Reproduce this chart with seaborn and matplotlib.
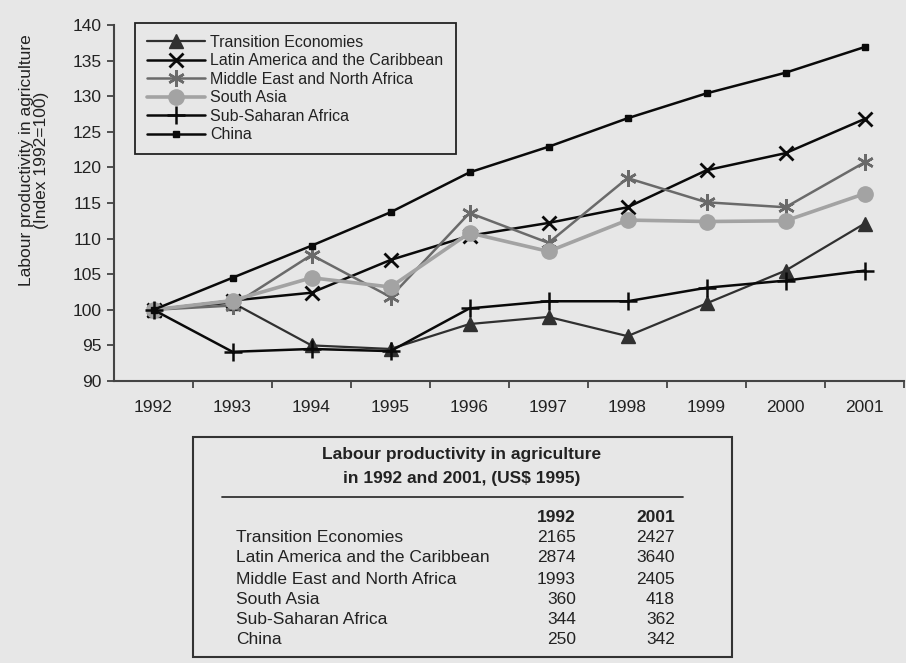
import matplotlib
matplotlib.use("Agg")
import matplotlib.pyplot as plt
import seaborn as sns
import pandas as pd
from matplotlib.patches import Rectangle
from matplotlib.lines import Line2D

# ===================== data =====================
years = [1992, 1993, 1994, 1995, 1996, 1997, 1998, 1999, 2000, 2001]
regions = ["Transition Economies", "Latin America and the Caribbean",
           "Middle East and North Africa", "South Asia",
           "Sub-Saharan Africa", "China"]
transition = [100, 101.0, 95.0, 94.5, 98.0, 99.0, 96.3, 100.9, 105.5, 112.1]
latin_america = [100, 101.3, 102.4, 107.0, 110.4, 112.2, 114.4, 119.6, 122.0, 126.8]
mena = [100, 100.6, 107.7, 101.8, 113.6, 109.4, 118.5, 115.1, 114.4, 120.7]
south_asia = [100, 101.3, 104.5, 103.2, 110.8, 108.2, 112.6, 112.4, 112.5, 116.3]
ssa = [100, 94.1, 94.5, 94.2, 100.2, 101.2, 101.2, 103.1, 104.1, 105.5]
china = [100, 104.5, 109.0, 113.7, 119.3, 122.9, 126.9, 130.4, 133.3, 136.9]

table_1992 = [2165, 2874, 1993, 360, 344, 250]
table_2001 = [2427, 3640, 2405, 418, 362, 342]

series = [transition, latin_america, mena, south_asia, ssa, china]

df = pd.DataFrame({
    "year": years * len(regions),
    "region": [r for r in regions for _ in years],
    "index": [v for s in series for v in s],
})

# styles
bg = "#e7e7e7"
styles = {
    "Transition Economies": dict(color="#303030", marker="^", markersize=10, lw=1.6),
    "Latin America and the Caribbean": dict(color="#0a0a0a", marker="x", markersize=10, mew=2, lw=1.8),
    "Middle East and North Africa": dict(color="#6a6a6a", marker=(6, 2, 0), markersize=12, mew=1.8, lw=1.8),
    "South Asia": dict(color="#a3a3a3", marker="o", markersize=11, lw=2.6),
    "Sub-Saharan Africa": dict(color="#0a0a0a", marker="+", markersize=13, mew=1.8, lw=1.8),
    "China": dict(color="#0a0a0a", marker="s", markersize=5, lw=1.8),
}

sns.set_theme(style="white")
plt.rcParams["font.family"] = ["Liberation Sans", "DejaVu Sans"]
plt.rcParams["text.color"] = "#222222"

W, H = 906, 663
fig = plt.figure(figsize=(W / 100, H / 100), dpi=100, facecolor=bg)

def fx(px):
    return px / W

def fy(py):
    return 1 - py / H

ax = fig.add_axes([fx(114), fy(381), fx(904) - fx(114), fy(25) - fy(381)])
ax.set_facecolor(bg)

for name in regions:
    st = styles[name]
    sub = df[df["region"] == name]
    sns.lineplot(data=sub, x="year", y="index", ax=ax, label=name,
                 color=st["color"], linewidth=st["lw"], marker=st["marker"],
                 markersize=st["markersize"], markeredgewidth=st.get("mew", 1),
                 markeredgecolor=st["color"], markerfacecolor=st["color"])

ax.set_xlim(1991.5, 2001.5)
ax.set_ylim(90, 140)
ax.set_yticks(range(90, 141, 5))
ax.set_xticks([y + 0.5 for y in years])
ax.set_xticklabels([])
ax.set_xticks(years, minor=True)
ax.set_xticklabels([str(y) for y in years], minor=True)
ax.tick_params(axis="x", which="minor", length=0, pad=14, labelsize=12.5, labelcolor="#222222")
ax.tick_params(axis="x", which="major", bottom=True, length=5, width=1.3,
               color="#444444", direction="out")
ax.tick_params(axis="y", length=5, direction="out", width=1.3, color="#444444",
               labelsize=12.5, labelcolor="#222222", pad=4, left=True)
sns.despine(ax=ax)
for sp in ["left", "bottom"]:
    ax.spines[sp].set_color("#444444")
    ax.spines[sp].set_linewidth(1.5)
ax.set_xlabel("")
ax.set_ylabel("Labour productivity in agriculture\n(Index 1992=100)", fontsize=12.5,
              color="#222222", linespacing=1.0)
ax.yaxis.set_label_coords(-0.082, 0.62)

leg = ax.legend(loc="upper left", bbox_to_anchor=(0.027, 1.006), borderaxespad=0,
                frameon=True, fancybox=False, edgecolor="#222222", facecolor=bg,
                framealpha=1, fontsize=11.5, handlelength=3.6, handletextpad=0.35,
                labelspacing=0.22, borderpad=0.75)
leg.get_frame().set_linewidth(1.3)
for t in leg.get_texts():
    t.set_color("#222222")

# ===================== table =====================
fig.patches.append(Rectangle((fx(193), fy(657)), fx(732) - fx(193), fy(437) - fy(657),
                             transform=fig.transFigure, fill=False,
                             edgecolor="#333333", linewidth=1.5))
fig.lines.append(Line2D([fx(222), fx(683)], [fy(497), fy(497)],
                        transform=fig.transFigure, color="#333333", linewidth=1.3))
fig.text(fx(462), fy(455), "Labour productivity in agriculture", ha="center",
         va="center", fontsize=12.5, fontweight="bold")
fig.text(fx(462), fy(478), "in 1992 and 2001, (US$ 1995)", ha="center",
         va="center", fontsize=12.5, fontweight="bold")
fig.text(fx(576), fy(517), "1992", ha="right", va="center", fontsize=12.5, fontweight="bold")
fig.text(fx(675), fy(517), "2001", ha="right", va="center", fontsize=12.5, fontweight="bold")
row_y = [538, 558, 579, 599, 620, 640]
for name, v1, v2, ry in zip(regions, table_1992, table_2001, row_y):
    fig.text(fx(236), fy(ry), name, ha="left", va="center", fontsize=12.5)
    fig.text(fx(576), fy(ry), str(v1), ha="right", va="center", fontsize=12.5)
    fig.text(fx(675), fy(ry), str(v2), ha="right", va="center", fontsize=12.5)

fig.savefig("out.png", dpi=100, facecolor=bg)
